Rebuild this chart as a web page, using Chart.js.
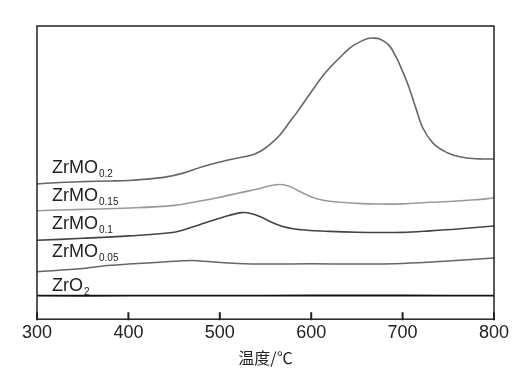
<!DOCTYPE html>
<html>
<head>
<meta charset="utf-8">
<script src="https://cdn.jsdelivr.net/npm/chart.js@4.4.0/dist/chart.umd.min.js"></script>
<style>
  html, body { margin: 0; padding: 0; background: #fff; }
  #wrap { width: 525px; height: 371px; }
</style>
</head>
<body>
<div id="wrap"><canvas id="tpr"></canvas></div>
<script>
// --- Data (signal heights, arbitrary units) ---
const xTicks = [300, 400, 500, 600, 700, 800];

const t02 = [300, 320, 350, 380, 400, 420, 440, 460, 480, 500, 520, 535, 545, 555, 565, 575, 585, 595, 605, 615, 625, 635, 645, 655, 662, 668, 675, 685, 693, 700, 705, 710, 715, 722, 733, 745, 755, 770, 788, 800];
const v02 = [134.3, 135.5, 136.5, 137.2, 137.7, 139, 141, 145, 151, 156, 160, 163, 167, 173.5, 182, 194, 206, 219, 232, 244, 254, 263, 271, 276, 278.5, 279, 278, 272, 260, 246, 235, 222, 208, 190, 175, 167, 163, 160, 159, 159];

const t015 = [300, 350, 400, 450, 480, 500, 520, 540, 555, 566, 576, 586, 596, 606, 620, 650, 675, 700, 730, 750, 780, 800];
const v015 = [107.7, 109, 110.3, 113, 117.5, 121, 125, 129, 132.5, 133.7, 132, 127.5, 123, 119.5, 117, 115, 114.3, 114.5, 116, 116.8, 118.5, 120.3];

const t01 = [300, 350, 400, 450, 470, 490, 510, 524, 534, 545, 556, 568, 582, 600, 620, 650, 675, 700, 730, 760, 800];
const v01 = [78.3, 80.3, 82.7, 86.3, 91.5, 97.5, 103, 105.8, 105, 101.5, 96.5, 92.3, 89.5, 88, 87.2, 86.3, 86, 86.2, 87.7, 89.5, 92.5];

const t005 = [300, 350, 380, 400, 430, 460, 470, 490, 520, 550, 600, 650, 700, 750, 800];
const v005 = [47, 50.3, 53.5, 54.7, 56.3, 58, 58.3, 57, 55.3, 54.7, 55, 54.7, 55.3, 57.7, 60.7];

const tZr = [300, 400, 500, 600, 700, 800];
const vZr = [23.3, 23.3, 23.4, 23.5, 23.5, 23.3];

// curve labels: main text, subscript, baseline height
const labelMain = ['ZrMO', 'ZrMO', 'ZrMO', 'ZrMO', 'ZrO'];
const labelSub = ['0.2', '0.15', '0.1', '0.05', '2'];
const labelBase = [145.5, 117, 90, 61.3, 28];

const pts = (xs, ys) => xs.map((x, i) => ({ x: x, y: ys[i] }));

function series(xs, ys, color, width) {
  return {
    data: pts(xs, ys),
    borderColor: color,
    borderWidth: width,
    pointRadius: 0,
    tension: 0.35,
    fill: false
  };
}

// box frame, inward ticks and curve labels
const framePlugin = {
  id: 'frame',
  afterDraw(chart) {
    const ctx = chart.ctx;
    const a = chart.chartArea;
    const xs = chart.scales.x;
    const ys = chart.scales.y;
    ctx.save();
    ctx.strokeStyle = '#222';
    ctx.lineWidth = 1.5;
    ctx.strokeRect(a.left, a.top, a.right - a.left, a.bottom - a.top);
    ctx.lineWidth = 2;
    xTicks.forEach(t => {
      const px = xs.getPixelForValue(t);
      ctx.beginPath();
      ctx.moveTo(px, a.bottom - 7);
      ctx.lineTo(px, a.bottom + 1);
      ctx.stroke();
    });
    ctx.fillStyle = '#222';
    ctx.textBaseline = 'alphabetic';
    const lx = xs.getPixelForValue(316.4);
    labelMain.forEach((m, i) => {
      const by = ys.getPixelForValue(labelBase[i]);
      ctx.font = '18px "Liberation Sans", Arial, sans-serif';
      ctx.fillText(m, lx, by);
      const w = ctx.measureText(m).width;
      ctx.font = '10px "Liberation Sans", Arial, sans-serif';
      ctx.fillText(labelSub[i], lx + w + 1, by + 4);
    });
    ctx.restore();
  }
};

new Chart(document.getElementById('tpr'), {
  type: 'line',
  data: {
    datasets: [
      series(t02, v02, '#666', 1.6),
      series(t015, v015, '#9a9a9a', 1.6),
      series(t01, v01, '#444', 1.6),
      series(t005, v005, '#666', 1.5),
      series(tZr, vZr, '#111', 1.8)
    ]
  },
  options: {
    responsive: true,
    maintainAspectRatio: false,
    animation: false,
    layout: { padding: { left: 37, right: 31, top: 26, bottom: 1 } },
    plugins: {
      legend: { display: false },
      tooltip: { enabled: false }
    },
    scales: {
      x: {
        type: 'linear',
        min: 300,
        max: 800,
        grid: { display: false, drawTicks: false },
        border: { display: false },
        ticks: {
          stepSize: 100,
          padding: 3,
          color: '#222',
          font: { family: '"Liberation Sans", Arial, sans-serif', size: 18 }
        },
        title: {
          display: true,
          text: '温度/℃',
          color: '#222',
          font: { family: '"Noto Sans CJK SC", "Liberation Sans", sans-serif', size: 16 },
          padding: { top: 2, bottom: 2 }
        }
      },
      y: {
        display: false,
        min: 0,
        max: 291
      }
    }
  },
  plugins: [framePlugin]
});
</script>
</body>
</html>
